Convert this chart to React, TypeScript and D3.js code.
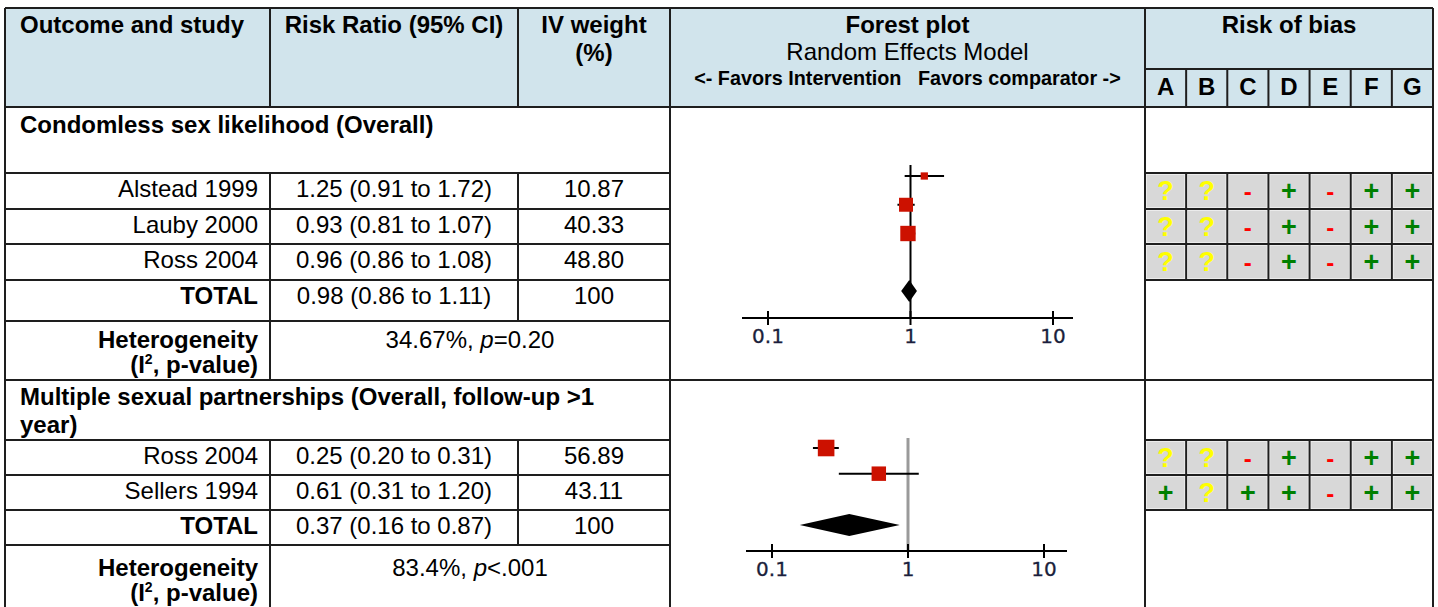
import React, { useRef, useEffect } from 'react';
import * as d3 from 'd3';

const W = 1438;
const H = 607;
const FONT = 'Liberation Sans, Arial, sans-serif';
const AXIS_FONT = 'DejaVu Sans, Verdana, sans-serif';
const HEADER_FILL = '#D1E4EC';
const LINE = '#1E1E1E';

// ---- data ----
const BIAS_DOMAINS = ['A', 'B', 'C', 'D', 'E', 'F', 'G'];
const AXIS_TICKS = [0.1, 1, 10];
const AXIS_TICK_LABELS = ['0.1', '1', '10'];

const condomTitle = ['Condomless sex likelihood (Overall)'];
const condomStudies = ['Alstead 1999', 'Lauby 2000', 'Ross 2004'];
const condomRR = [1.25, 0.93, 0.96];
const condomLow = [0.91, 0.81, 0.86];
const condomHigh = [1.72, 1.07, 1.08];
const condomWeight = [10.87, 40.33, 48.8];
const condomTotal = [0.98, 0.86, 1.11];
const condomHet = ['34.67%, ', 'p', '=0.20'];
const condomBias = [
  ['?', '?', '-', '+', '-', '+', '+'],
  ['?', '?', '-', '+', '-', '+', '+'],
  ['?', '?', '-', '+', '-', '+', '+'],
];

const partnerTitle = ['Multiple sexual partnerships (Overall, follow-up >1', 'year)'];
const partnerStudies = ['Ross 2004', 'Sellers 1994'];
const partnerRR = [0.25, 0.61];
const partnerLow = [0.2, 0.31];
const partnerHigh = [0.31, 1.2];
const partnerWeight = [56.89, 43.11];
const partnerTotal = [0.37, 0.16, 0.87];
const partnerHet = ['83.4%, ', 'p', '<.001'];
const partnerBias = [
  ['?', '?', '-', '+', '-', '+', '+'],
  ['+', '?', '+', '+', '-', '+', '+'],
];

// ---- layout ----
const COL_X = [5, 270, 518, 670, 1145, 1433];
const HEAD_TOP = 8;
const HEAD_BOTTOM = 107;
const BIAS_HEAD_Y = 69;

const sections = [
  {
    title: condomTitle,
    studies: condomStudies,
    rr: condomRR,
    low: condomLow,
    high: condomHigh,
    weight: condomWeight,
    total: condomTotal,
    het: condomHet,
    bias: condomBias,
    top: 107,
    titleH: 66,
    rowH: [36, 35, 36],
    totalH: 41,
    hetH: 59,
    titleBase: 133,
    hetOffset: 27,
    forest: {
      rows: ['s0', 's1', 's2', 'gap', 'total'],
      yRange: [176, 291],
      lineTop: 165,
      axisY: 318,
      xRange: [768, 1053],
      axisExt: [742, 1073],
      refColor: '#000000',
      refWidth: 2,
    },
  },
  {
    title: partnerTitle,
    studies: partnerStudies,
    rr: partnerRR,
    low: partnerLow,
    high: partnerHigh,
    weight: partnerWeight,
    total: partnerTotal,
    het: partnerHet,
    bias: partnerBias,
    top: 380,
    titleH: 60,
    rowH: [35, 35],
    totalH: 35,
    hetH: 70,
    titleBase: 405,
    hetOffset: 31,
    forest: {
      rows: ['s0', 's1', 'gap', 'total'],
      yRange: [448, 525],
      lineTop: 438,
      axisY: 551,
      xRange: [772, 1044],
      axisExt: [746, 1067],
      refColor: '#9A9A9A',
      refWidth: 3,
    },
  },
];

const fmt = (v: number) => v.toFixed(2);

const App: React.FC = () => {
  const svgRef = useRef<SVGSVGElement>(null);

  useEffect(() => {
    if (!svgRef.current) return;
    const svg = d3.select(svgRef.current);
    svg.selectAll('*').remove();

    const text = (
      x: number,
      y: number,
      s: string,
      opts: { size?: number; bold?: boolean; anchor?: string; fill?: string; family?: string } = {}
    ) =>
      svg
        .append('text')
        .attr('x', x)
        .attr('y', y)
        .attr('font-family', opts.family ?? FONT)
        .attr('font-size', opts.size ?? 24)
        .attr('font-weight', opts.bold ? 'bold' : 'normal')
        .attr('text-anchor', opts.anchor ?? 'start')
        .attr('fill', opts.fill ?? '#000')
        .text(s);

    const line = (x1: number, y1: number, x2: number, y2: number, color = LINE, w = 2) =>
      svg
        .append('line')
        .attr('x1', x1)
        .attr('y1', y1)
        .attr('x2', x2)
        .attr('y2', y2)
        .attr('stroke', color)
        .attr('stroke-width', w);

    // bias column scale
    const biasX = d3
      .scaleBand<string>()
      .domain(BIAS_DOMAINS)
      .range([COL_X[4], COL_X[5]]);

    // header background
    svg
      .append('rect')
      .attr('x', COL_X[0])
      .attr('y', HEAD_TOP)
      .attr('width', COL_X[5] - COL_X[0])
      .attr('height', HEAD_BOTTOM - HEAD_TOP)
      .attr('fill', HEADER_FILL);

    // header text
    text(20, 33, 'Outcome and study', { bold: true });
    text((COL_X[1] + COL_X[2]) / 2, 33, 'Risk Ratio (95% CI)', { bold: true, anchor: 'middle' });
    text((COL_X[2] + COL_X[3]) / 2, 33, 'IV weight', { bold: true, anchor: 'middle' });
    text((COL_X[2] + COL_X[3]) / 2, 61, '(%)', { bold: true, anchor: 'middle' });
    const fx = (COL_X[3] + COL_X[4]) / 2;
    text(fx, 33, 'Forest plot', { bold: true, anchor: 'middle' });
    text(fx, 60, 'Random Effects Model', { anchor: 'middle' });
    svg
      .append('text')
      .attr('x', fx)
      .attr('y', 85)
      .attr('font-family', FONT)
      .attr('font-size', 19.8)
      .attr('font-weight', 'bold')
      .attr('text-anchor', 'middle')
      .attr('xml:space', 'preserve')
      .style('white-space', 'pre')
      .text('<- Favors Intervention   Favors comparator ->');
    text((COL_X[4] + COL_X[5]) / 2, 33, 'Risk of bias', { bold: true, anchor: 'middle' });
    BIAS_DOMAINS.forEach((d) => {
      text((biasX(d) ?? 0) + biasX.bandwidth() / 2, 95, d, { bold: true, anchor: 'middle' });
    });

    // header grid
    line(COL_X[0], HEAD_TOP, COL_X[5], HEAD_TOP);
    [1, 2, 3, 4].forEach((i) => line(COL_X[i], HEAD_TOP, COL_X[i], HEAD_BOTTOM));
    line(COL_X[4], BIAS_HEAD_Y, COL_X[5], BIAS_HEAD_Y);
    BIAS_DOMAINS.slice(1).forEach((d) => line(biasX(d) ?? 0, BIAS_HEAD_Y, biasX(d) ?? 0, HEAD_BOTTOM));

    const sizeScale = d3.scaleSqrt().domain([0, 100]).range([0, 22]);

    sections.forEach((sec) => {
      const titleBottom = sec.top + sec.titleH;
      const rowTops: number[] = [];
      let y = titleBottom;
      sec.rowH.forEach((h) => {
        rowTops.push(y);
        y += h;
      });
      const totalTop = y;
      const totalBottom = totalTop + sec.totalH;
      const hetBottom = totalBottom + sec.hetH;

      // bias cells
      sec.bias.forEach((row, i) => {
        row.forEach((sym, j) => {
          const x0 = biasX(BIAS_DOMAINS[j]) ?? 0;
          svg
            .append('rect')
            .attr('x', x0 + 1)
            .attr('y', rowTops[i] + 1)
            .attr('width', biasX.bandwidth() - 2)
            .attr('height', sec.rowH[i] - 2)
            .attr('fill', '#D8D8D8')
            .attr('stroke', '#F2F2F2')
            .attr('stroke-width', 1.5);
          const color = sym === '?' ? '#FFFF00' : sym === '-' ? '#FF0000' : '#008000';
          text(x0 + biasX.bandwidth() / 2, rowTops[i] + 27, sym, {
            bold: true,
            anchor: 'middle',
            size: sym === '-' ? 24 : 27,
            fill: color,
          });
        });
      });

      // section title (wrapped lines in one text)
      const tt = svg
        .append('text')
        .attr('x', 20)
        .attr('y', sec.titleBase)
        .attr('font-family', FONT)
        .attr('font-size', 24)
        .attr('font-weight', 'bold');
      sec.title.forEach((t, i) =>
        tt.append('tspan').attr('x', 20).attr('dy', i === 0 ? 0 : 28).text(t)
      );

      // study rows
      sec.studies.forEach((s, i) => {
        const b = rowTops[i] + 24;
        text(COL_X[1] - 12, b, s, { anchor: 'end' });
        text(
          (COL_X[1] + COL_X[2]) / 2,
          b,
          `${fmt(sec.rr[i])} (${fmt(sec.low[i])} to ${fmt(sec.high[i])})`,
          { anchor: 'middle' }
        );
        text((COL_X[2] + COL_X[3]) / 2, b, fmt(sec.weight[i]), { anchor: 'middle' });
      });

      // total row
      const tb = totalTop + 24;
      text(COL_X[1] - 12, tb, 'TOTAL', { anchor: 'end', bold: true });
      text(
        (COL_X[1] + COL_X[2]) / 2,
        tb,
        `${fmt(sec.total[0])} (${fmt(sec.total[1])} to ${fmt(sec.total[2])})`,
        { anchor: 'middle' }
      );
      text((COL_X[2] + COL_X[3]) / 2, tb, '100', { anchor: 'middle' });

      // heterogeneity label: two lines in one text element
      const hb = totalBottom + sec.hetOffset;
      const hl = svg
        .append('text')
        .attr('x', COL_X[1] - 12)
        .attr('y', hb)
        .attr('font-family', FONT)
        .attr('font-size', 24)
        .attr('font-weight', 'bold')
        .attr('text-anchor', 'end');
      hl.append('tspan').attr('x', COL_X[1] - 12).text('Heterogeneity');
      hl.append('tspan').attr('x', COL_X[1] - 12).attr('dy', 25).text('(I');
      hl.append('tspan').attr('font-size', 14).attr('dy', -9).text('2');
      hl.append('tspan').attr('dy', 9).text(', p-value)');

      const het = svg
        .append('text')
        .attr('x', (COL_X[1] + COL_X[3]) / 2)
        .attr('y', hb)
        .attr('font-family', FONT)
        .attr('font-size', 24)
        .attr('text-anchor', 'middle');
      het.append('tspan').text(sec.het[0]);
      het.append('tspan').attr('font-style', 'italic').text(sec.het[1]);
      het.append('tspan').text(sec.het[2]);

      // grid
      line(COL_X[0], sec.top, COL_X[5], sec.top);
      line(COL_X[0], titleBottom, COL_X[3], titleBottom);
      line(COL_X[4], titleBottom, COL_X[5], titleBottom);
      rowTops.forEach((rt, i) => {
        const rb = rt + sec.rowH[i];
        line(COL_X[0], rb, COL_X[3], rb);
        line(COL_X[4], rb, COL_X[5], rb);
      });
      line(COL_X[0], totalBottom, COL_X[3], totalBottom);
      line(COL_X[1], titleBottom, COL_X[1], Math.min(hetBottom, H));
      line(COL_X[2], titleBottom, COL_X[2], totalBottom);
      BIAS_DOMAINS.slice(1).forEach((d) =>
        line(biasX(d) ?? 0, titleBottom, biasX(d) ?? 0, totalTop)
      );

      // forest plot
      const f = sec.forest;
      const x = d3.scaleLog().domain([0.1, 10]).range(f.xRange);
      const yPos = d3.scalePoint<string>().domain(f.rows).range(f.yRange);
      const g = svg.append('g');

      g.append('line')
        .attr('x1', x(1))
        .attr('x2', x(1))
        .attr('y1', f.lineTop)
        .attr('y2', f.axisY)
        .attr('stroke', f.refColor)
        .attr('stroke-width', f.refWidth);

      g.append('line')
        .attr('x1', f.axisExt[0])
        .attr('x2', f.axisExt[1])
        .attr('y1', f.axisY)
        .attr('y2', f.axisY)
        .attr('stroke', '#000')
        .attr('stroke-width', 2);

      AXIS_TICKS.forEach((t, i) => {
        g.append('line')
          .attr('x1', x(t))
          .attr('x2', x(t))
          .attr('y1', f.axisY - 7)
          .attr('y2', f.axisY + 7)
          .attr('stroke', '#000')
          .attr('stroke-width', 2);
        g.append('text')
          .attr('x', x(t))
          .attr('y', f.axisY + 25)
          .attr('text-anchor', 'middle')
          .attr('font-family', AXIS_FONT)
          .attr('font-size', 20)
          .attr('fill', '#1B1F3D')
          .attr('stroke', '#1B1F3D')
          .attr('stroke-width', 0.3)
          .text(AXIS_TICK_LABELS[i]);
      });

      sec.studies.forEach((_, i) => {
        const cy = yPos(`s${i}`) ?? 0;
        g.append('line')
          .attr('x1', x(sec.low[i]))
          .attr('x2', x(sec.high[i]))
          .attr('y1', cy)
          .attr('y2', cy)
          .attr('stroke', '#000')
          .attr('stroke-width', 2);
        const s = sizeScale(sec.weight[i]);
        g.append('rect')
          .attr('x', x(sec.rr[i]) - s / 2)
          .attr('y', cy - s / 2)
          .attr('width', s)
          .attr('height', s)
          .attr('fill', '#CC1100');
      });

      const ty = yPos('total') ?? 0;
      const dh = 11;
      const diamond = d3.line()([
        [x(sec.total[1]), ty],
        [x(sec.total[0]), ty - dh],
        [x(sec.total[2]), ty],
        [x(sec.total[0]), ty + dh],
      ]);
      g.append('path')
        .attr('d', `${diamond}Z`)
        .attr('fill', '#000');
    });

    // outer verticals
    line(COL_X[0], HEAD_TOP, COL_X[0], H);
    line(COL_X[3], HEAD_BOTTOM, COL_X[3], H);
    line(COL_X[4], HEAD_BOTTOM, COL_X[4], H);
    line(COL_X[5], HEAD_TOP, COL_X[5], H);
    line(COL_X[0], HEAD_BOTTOM, COL_X[5], HEAD_BOTTOM);
  }, []);

  return (
    <svg
      ref={svgRef}
      width={W}
      height={H}
      style={{ position: 'absolute', left: 0, top: 0, background: '#fff' }}
    />
  );
};

export default App;
